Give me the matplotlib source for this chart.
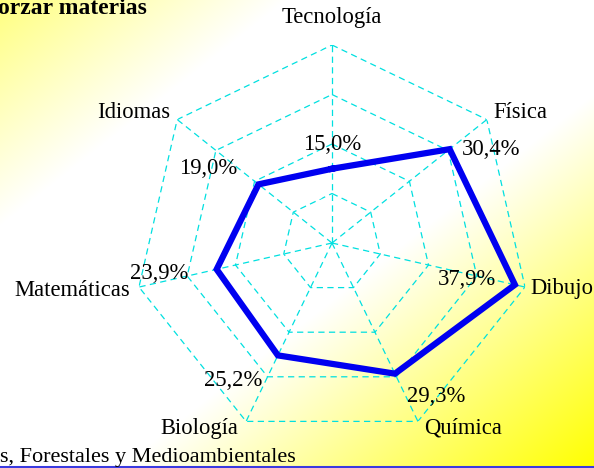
import numpy as np
import matplotlib
matplotlib.use("Agg")
import matplotlib.pyplot as plt

# ---- data ----
categories = ["Tecnología", "Física", "Dibujo", "Química", "Biología", "Matemáticas", "Idiomas"]
values = [15.0, 30.4, 37.9, 29.3, 25.2, 23.9, 19.0]
value_labels = ["15,0%", "30,4%", "37,9%", "29,3%", "25,2%", "23,9%", "19,0%"]
rings = [10, 20, 30, 40]
ring_labels = ["10%", "20%", "30%", "40%"]
title_text = "orzar materias"
footer_text = "s, Forestales y Medioambientales"

# ---- layout / style (pixel offsets for labels) ----
cat_offsets = [(0, 27, "center"), (7, 7, "left"), (5, -1, "left"), (6, -7, "left"),
               (-8, -7, "right"), (-9, -3, "right"), (-7, 7, "right")]
val_offsets = [(0, 24, "center"), (12, 0, "left"), (-19, 5, "right"), (12, -23, "left"),
               (-16, -25, "right"), (-28, -4, "right"), (-21, 16, "right")]

W, H, DPI = 594, 468, 100
FONT = "Liberation Serif"
FS = 16.3
CYAN = "#00E0E0"
BLUE = "#0000F0"

fig = plt.figure(figsize=(W / DPI, H / DPI), dpi=DPI)

# background gradient: light yellow (top-left) -> white -> yellow (bottom-right)
bg = fig.add_axes([0, 0, 1, 1])
yy, xx = np.mgrid[0:H, 0:W]
t = (xx / W + yy / H) / 2.0
blue = np.ones_like(t)
left = t < 0.24
blue[left] = 1.0 - (0.24 - t[left]) / 0.24 * 0.5
right = t > 0.6
blue[right] = 1.0 - (t[right] - 0.6) / 0.4
blue = np.clip(blue, 0, 1)
img = np.dstack([np.ones_like(t), np.ones_like(t), blue])
bg.imshow(img, aspect="auto", extent=[0, W, H, 0], interpolation="bilinear")
bg.set_xlim(0, W)
bg.set_ylim(H, 0)
bg.axis("off")
# bottom blue rule
bg.axhline(H - 1, color="#3A3AE0", lw=2.2)

# radar axes
cx, cy, R = 332 / W, (H - 243) / H, 198
ax = fig.add_axes([cx - R / W, cy - R / H, 2 * R / W, 2 * R / H], polar=True)
ax.set_theta_zero_location("N")
ax.set_theta_direction(-1)
ax.set_ylim(0, rings[-1])
ax.patch.set_alpha(0)
ax.grid(False)
ax.spines["polar"].set_visible(False)
ax.set_xticks([])
ax.set_yticks([])

n = len(categories)
theta = np.arange(n) * 2 * np.pi / n
theta_c = np.append(theta, theta[0])

for r in rings:
    ax.plot(theta_c, [r] * (n + 1), color=CYAN, lw=0.9, dashes=(5, 3.5), zorder=1)
for th in theta:
    ax.plot([th, th], [0, rings[-1]], color=CYAN, lw=0.9, dashes=(5, 3.5), zorder=1)

for r, lab in zip(rings, ring_labels):
    ax.annotate(lab, xy=(0, r), xytext=(-8, 0), textcoords="offset pixels",
                ha="right", va="center", fontsize=FS, family=FONT, color="white")

vals_c = values + values[:1]
ax.plot(theta_c, vals_c, color=BLUE, lw=4.5, solid_joinstyle="miter", zorder=3)

for th, cat, (dx, dy, ha) in zip(theta, categories, cat_offsets):
    ax.annotate(cat, xy=(th, rings[-1]), xytext=(dx, dy), textcoords="offset pixels",
                ha=ha, va="center", fontsize=FS, family=FONT, color="black",
                annotation_clip=False)

for th, v, lab, (dx, dy, ha) in zip(theta, values, value_labels, val_offsets):
    ax.annotate(lab, xy=(th, v), xytext=(dx, dy), textcoords="offset pixels",
                ha=ha, va="center", fontsize=FS, family=FONT, color="black", zorder=4)

fig.text(-2 / W, (H - 14) / H, title_text, fontsize=17, family=FONT, weight="bold",
         ha="left", va="baseline")
fig.text(0 / W, (H - 462) / H, footer_text, fontsize=16, family=FONT,
         ha="left", va="baseline")

fig.savefig("out.png", dpi=DPI)
